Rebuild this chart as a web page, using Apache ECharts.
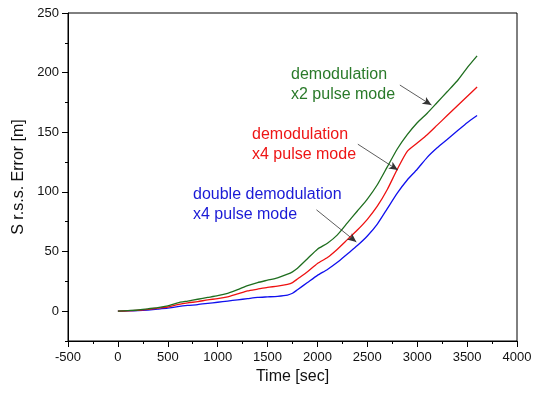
<!DOCTYPE html>
<html>
<head>
<meta charset="utf-8">
<script src="https://cdn.jsdelivr.net/npm/echarts@6/dist/echarts.min.js"></script>
<style>
html,body{margin:0;padding:0;background:#fff;}
#chart{width:539px;height:395px;}
</style>
</head>
<body>
<div id="chart"></div>
<script>
// Time samples [sec]
var times = [0,100,200,300,400,500,600,700,800,900,1000,1100,1200,1300,1400,1500,1600,1700,1750,1800,1900,2000,2100,2200,2300,2400,2500,2600,2700,2800,2900,3000,3100,3200,3300,3400,3500,3600];
// demodulation x2 pulse mode (green)
var demodX2 = [0,0.5,1,2,3,4.5,7,8.5,10,11.5,13,15,18,21.5,24,26,28,31,33,36,44,52,57,64,74,84,94,106,121,136,148,158,166,175,184,193,204,214];
// demodulation x4 pulse mode (red)
var demodX4 = [0,0.3,0.8,1.5,2.5,3.5,5.5,7,8,9.5,10.5,12,14.5,17,18.5,20,21,22.5,24,27,33,40,45,52,60,68,77,88,102,119,134,141,148,156,164,172,180,188];
// double demodulation x4 pulse mode (blue)
var doubleDemodX4 = [0,0.2,0.5,1,1.7,2.5,3.8,4.8,5.5,6.5,7.5,8.5,9.5,10.5,11.5,12,12.5,13.5,15,18,24,30,35,41,48,55,63,73,86,99,110,119,129,137,144,151,158,164];

var yMajorTicks = [0,50,100,150,200,250];
var yMinorTicks = [-25,25,75,125,175,225];

// annotation arrows in data coordinates [from, to]
var arrowGreen = [[2826,189.6],[3143,172.8]];
var arrowRed = [[2405,140],[2806,118.3]];
var arrowBlue = [[1990,85],[2390,58]];

function pairs(xs, ys){ return xs.map(function(x,i){return [x, ys[i]];}); }

var chart = echarts.init(document.getElementById('chart'));
var font = 'Liberation Sans, Arial, sans-serif';
var axisCol = '#000';

function arrowLine(a){
  return [{coord:a[0]},{coord:a[1]}];
}
function plain(v){ return String(v); }

chart.setOption({
  animation:false,
  backgroundColor:'#fff',
  grid:{left:68,right:22,top:13,bottom:54,show:true,borderColor:'#000',borderWidth:1,backgroundColor:'transparent'},
  xAxis:{
    type:'value', min:-500, max:4000, interval:500,
    name:'Time [sec]', nameLocation:'middle', nameGap:24,
    nameTextStyle:{fontFamily:font,fontSize:16,color:'#111'},
    axisLine:{show:true,onZero:false,lineStyle:{color:axisCol,width:1}},
    axisTick:{show:true,inside:false,length:6,lineStyle:{color:axisCol}},
    minorTick:{show:true,splitNumber:2,length:3,lineStyle:{color:axisCol}},
    axisLabel:{fontFamily:font,fontSize:13,color:'#111',margin:10,formatter:plain},
    splitLine:{show:false}
  },
  yAxis:[{
    type:'value', min:-25, max:250,
    name:'S r.s.s. Error [m]', nameLocation:'middle', nameGap:38,
    nameTextStyle:{fontFamily:font,fontSize:16,color:'#111'},
    axisLine:{show:true,onZero:false,lineStyle:{color:axisCol,width:1}},
    axisTick:{show:true,inside:false,length:6,customValues:yMajorTicks,lineStyle:{color:axisCol}},
    axisLabel:{fontFamily:font,fontSize:13,color:'#111',margin:9,customValues:yMajorTicks,formatter:plain},
    splitLine:{show:false}
  },{
    type:'value', min:-25, max:250, position:'left', offset:0,
    axisLine:{show:false,onZero:false},
    axisTick:{show:true,inside:false,length:3,customValues:yMinorTicks,lineStyle:{color:axisCol}},
    axisLabel:{show:false},
    splitLine:{show:false}
  }],
  series:[
    {name:'double demodulation x4 pulse mode',type:'line',data:pairs(times,doubleDemodX4),showSymbol:false,smooth:0.2,
     lineStyle:{color:'#1010ee',width:1.3},itemStyle:{color:'#1010ee'},
     markLine:{silent:true,symbol:['none','arrow'],symbolSize:[6,9],label:{show:false},
       lineStyle:{color:'#333',width:0.8,type:'solid'},
       data:[arrowLine(arrowGreen),arrowLine(arrowRed),arrowLine(arrowBlue)]}},
    {name:'demodulation x4 pulse mode',type:'line',data:pairs(times,demodX4),showSymbol:false,smooth:0.2,
     lineStyle:{color:'#ee1111',width:1.3},itemStyle:{color:'#ee1111'}},
    {name:'demodulation x2 pulse mode',type:'line',data:pairs(times,demodX2),showSymbol:false,smooth:0.2,
     lineStyle:{color:'#1f6e1f',width:1.3},itemStyle:{color:'#1f6e1f'}}
  ],
  graphic:[
    {type:'text',left:291,top:65,style:{text:'demodulation\nx2 pulse mode',fill:'#2a7a2a',font:'16px '+font,lineHeight:20}},
    {type:'text',left:252,top:125,style:{text:'demodulation\nx4 pulse mode',fill:'#ee1515',font:'16px '+font,lineHeight:20}},
    {type:'text',left:193,top:185,style:{text:'double demodulation\nx4 pulse mode',fill:'#1a1ad6',font:'16px '+font,lineHeight:20}}
  ]
});
</script>
</body>
</html>
